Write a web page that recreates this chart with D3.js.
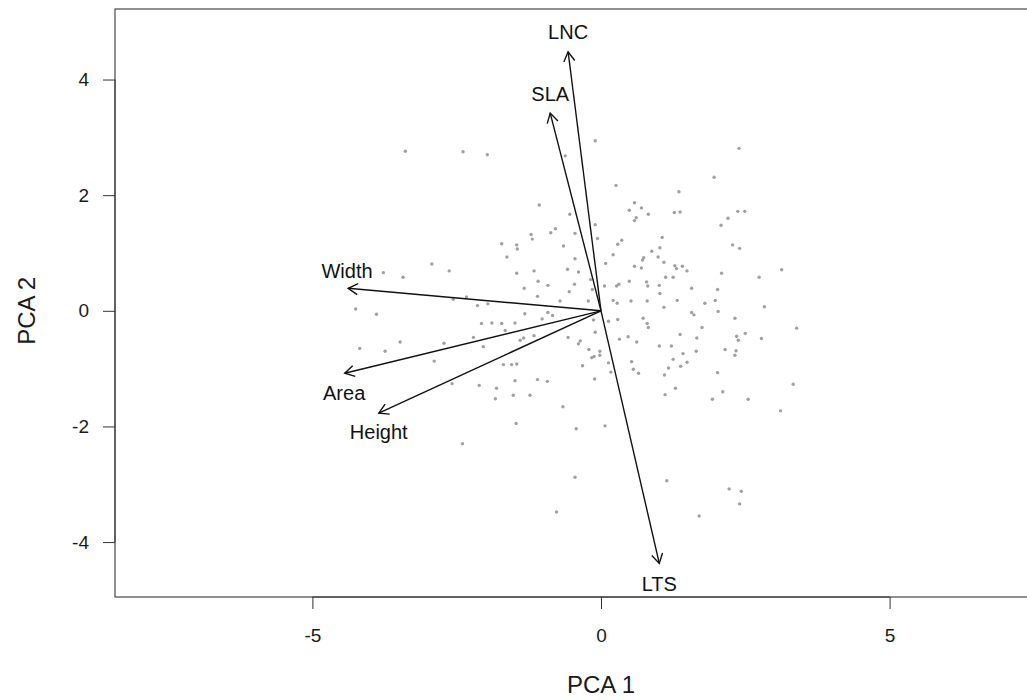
<!DOCTYPE html>
<html>
<head>
<meta charset="utf-8">
<script src="https://cdnjs.cloudflare.com/ajax/libs/d3/7.8.5/d3.min.js"></script>
<style>
body { margin: 0; background: #fff; }
svg { font-family: "Liberation Sans", Arial, sans-serif; }
.axis text { font-size: 19px; fill: #1a1a1a; font-family: "Liberation Sans", Arial, sans-serif; }
.axis line { stroke: #333; }
</style>
</head>
<body>
<svg width="1027" height="700"></svg>
<script>
// PCA scores (grey points)
var scoreX = [-3.39,-2.39,-3.77,-3.43,-2.93,-2.63,-2.56,-4.25,-3.89,
    -0.10,-1.97,-0.62,0.26,-1.07,0.58,0.49,0.61,0.58,-0.54,-0.10,-0.79,-0.87,-0.45,-1.21,-1.19,-0.06,0.36,0.29,-1.72,-1.46,-1.45,-0.65,-1.63,0.21,-0.45,0.08,0.58,-0.58,-1.16,-1.46,-0.39,-1.33,-1.09,-0.92,-0.46,-0.18,0.06,0.27,0.31,0.49,-1.10,-0.55,-0.15,0.21,0.28,0.52,-2.33,-2.14,-1.96,-1.32,-0.92,-0.84,-1.02,-0.71,-0.22,-0.13,0.13,0.29,-2.07,-1.89,-1.72,-1.49,
    2.39,1.96,1.35,0.70,0.82,1.27,1.37,2.37,2.49,2.20,2.08,1.06,2.28,2.40,1.02,0.88,0.74,0.72,0.99,1.09,1.28,1.31,1.41,1.49,0.70,1.12,1.25,2.09,2.74,3.13,0.79,0.81,1.01,1.02,1.57,2.02,0.80,1.32,1.80,1.98,1.09,2.03,2.83,1.57,1.61,0.73,0.80,2.32,
    -4.18,-3.74,-3.48,-2.89,-2.72,-2.58,-2.40,
    -2.21,-2.04,-1.66,-1.40,-1.34,-1.16,-0.57,-0.36,-0.39,-0.10,-0.21,-0.16,-0.12,-0.02,-0.02,0.13,0.17,-0.32,0.32,0.47,0.53,0.56,0.65,0.62,-1.69,-1.55,-1.46,-2.11,-1.81,-1.83,-1.49,-1.10,-0.93,-1.52,-1.23,-0.66,-1.47,-0.43,0.07,-0.45,-0.77,-0.11,
    0.82,1.37,1.75,1.66,1.01,1.22,1.42,1.65,1.25,1.49,1.38,1.17,1.10,1.29,1.11,2.02,2.11,1.93,2.55,2.15,2.34,2.32,2.35,2.38,2.50,2.78,3.39,3.33,3.11,1.14,2.22,2.43,2.40,1.70];
var scoreY = [2.76,2.75,0.66,0.58,0.81,0.69,0.20,0.03,-0.06,
    2.94,2.70,2.68,2.17,1.83,1.87,1.74,1.61,1.56,1.67,1.49,1.42,1.35,1.34,1.32,1.24,1.25,1.22,1.15,1.16,1.14,1.07,1.12,0.93,0.97,0.90,0.82,0.77,0.72,0.69,0.65,0.67,0.39,0.51,0.44,0.46,0.54,0.43,0.43,0.46,0.51,0.25,0.33,0.37,0.18,0.13,0.17,0.24,0.09,0.12,-0.05,-0.03,-0.08,-0.14,0.17,0.17,-0.16,-0.18,-0.15,-0.22,-0.21,-0.22,-0.21,
    2.81,2.31,2.06,1.78,1.67,1.70,1.71,1.72,1.72,1.60,1.48,1.27,1.14,1.08,1.09,1.03,0.92,0.88,0.93,0.84,0.78,0.73,0.77,0.69,0.74,0.58,0.58,0.65,0.58,0.71,0.50,0.43,0.44,0.30,0.39,0.37,0.17,0.18,0.13,0.18,0.06,-0.01,0.07,-0.03,-0.07,-0.13,-0.22,-0.13,
    -0.65,-0.70,-0.54,-0.87,-0.56,-1.26,-2.30,
    -0.46,-0.62,-0.34,-0.51,-0.47,-0.43,-0.46,-0.52,-0.57,-0.37,-0.67,-0.81,-0.79,-0.70,-0.77,-0.90,-1.06,-0.95,-0.49,-0.45,-0.88,-1.01,-1.08,-0.54,-0.93,-0.93,-0.92,-1.29,-1.34,-1.52,-1.21,-1.19,-1.22,-1.46,-1.46,-1.66,-1.95,-2.04,-1.99,-2.88,-3.48,-1.18,
    -0.29,-0.41,-0.29,-0.47,-0.61,-0.61,-0.74,-0.70,-0.84,-0.89,-0.96,-0.99,-1.11,-1.34,-1.45,-1.07,-1.40,-1.53,-1.53,-0.67,-0.69,-0.77,-0.44,-0.51,-0.39,-0.48,-0.30,-1.27,-1.73,-2.94,-3.08,-3.12,-3.34,-3.55];

// variable loadings (arrow tips) and where their names sit
var varNames = ["LNC", "SLA", "Width", "Area", "Height", "LTS"];
var loadX = [-0.57, -0.88, -4.38, -4.44, -3.85, 1.01];
var loadY = [4.48, 3.42, 0.39, -1.08, -1.77, -4.37];
var labelX = [-0.57, -0.88, -4.40, -4.45, -3.85, 1.01];
var labelY = [4.82, 3.76, 0.70, -1.42, -2.10, -4.73];

var xTicks = [-5, 0, 5],
    yTicks = [-4, -2, 0, 2, 4];

var svg = d3.select("svg"),
    plot = {left: 115, top: 9, right: 1087, bottom: 597};

var x = d3.scaleLinear().domain([-8.42, 8.42]).range([plot.left, plot.right]),
    y = d3.scaleLinear().domain([-4.95, 5.22]).range([plot.bottom, plot.top]);

var points = scoreX.map(function(d, i) { return {x: d, y: scoreY[i]}; });
var loads = varNames.map(function(d, i) {
    return {name: d, x: loadX[i], y: loadY[i], lx: labelX[i], ly: labelY[i]};
});

svg.selectAll(".pt")
    .data(points)
    .enter().append("circle")
        .attr("class", "pt")
        .attr("cx", function(d) { return x(d.x); })
        .attr("cy", function(d) { return y(d.y); })
        .attr("r", 1.7)
        .attr("fill", "#a0a0a0");

var arrows = svg.selectAll(".load")
    .data(loads)
    .enter().append("g")
        .attr("class", "load");

arrows.append("line")
    .attr("x1", x(0)).attr("y1", y(0))
    .attr("x2", function(d) { return x(d.x); })
    .attr("y2", function(d) { return y(d.y); })
    .attr("stroke", "#111")
    .attr("stroke-width", 1.4);

arrows.append("path")
    .attr("d", function(d) {
        var tx = x(d.x), ty = y(d.y),
            a = Math.atan2(ty - y(0), tx - x(0)),
            len = 11, spread = Math.PI / 6;
        return "M" + (tx - len * Math.cos(a - spread)) + "," + (ty - len * Math.sin(a - spread)) +
            "L" + tx + "," + ty +
            "L" + (tx - len * Math.cos(a + spread)) + "," + (ty - len * Math.sin(a + spread));
    })
    .attr("fill", "none")
    .attr("stroke", "#111")
    .attr("stroke-width", 1.4);

arrows.append("text")
    .attr("x", function(d) { return x(d.lx); })
    .attr("y", function(d) { return y(d.ly); })
    .attr("dy", "0.36em")
    .attr("text-anchor", "middle")
    .attr("font-size", "20px")
    .attr("fill", "#111")
    .text(function(d) { return d.name; });

// box
svg.append("rect")
    .attr("x", plot.left).attr("y", plot.top)
    .attr("width", plot.right - plot.left)
    .attr("height", plot.bottom - plot.top)
    .attr("fill", "none")
    .attr("stroke", "#555")
    .attr("stroke-width", 1.3);

var xAxis = svg.append("g")
    .attr("class", "axis")
    .attr("transform", "translate(0," + plot.bottom + ")")
    .call(d3.axisBottom(x).tickValues(xTicks).tickSize(12).tickPadding(20)
        .tickFormat(function(d) { return String(d); }));
xAxis.select(".domain").remove();
xAxis.append("line")
    .attr("x1", x(xTicks[0])).attr("x2", x(xTicks[xTicks.length - 1]))
    .attr("stroke", "#222");

var yAxis = svg.append("g")
    .attr("class", "axis")
    .attr("transform", "translate(" + plot.left + ",0)")
    .call(d3.axisLeft(y).tickValues(yTicks).tickSize(12).tickPadding(14)
        .tickFormat(function(d) { return String(d); }));
yAxis.select(".domain").remove();
yAxis.append("line")
    .attr("y1", y(yTicks[0])).attr("y2", y(yTicks[yTicks.length - 1]))
    .attr("stroke", "#222");

svg.append("text")
    .attr("x", x(0))
    .attr("y", 693)
    .attr("text-anchor", "middle")
    .attr("font-size", "24px")
    .attr("fill", "#1a1a1a")
    .text("PCA 1");

svg.append("text")
    .attr("transform", "translate(35," + y(0) + ") rotate(-90)")
    .attr("text-anchor", "middle")
    .attr("font-size", "24px")
    .attr("fill", "#1a1a1a")
    .text("PCA 2");
</script>
</body>
</html>
